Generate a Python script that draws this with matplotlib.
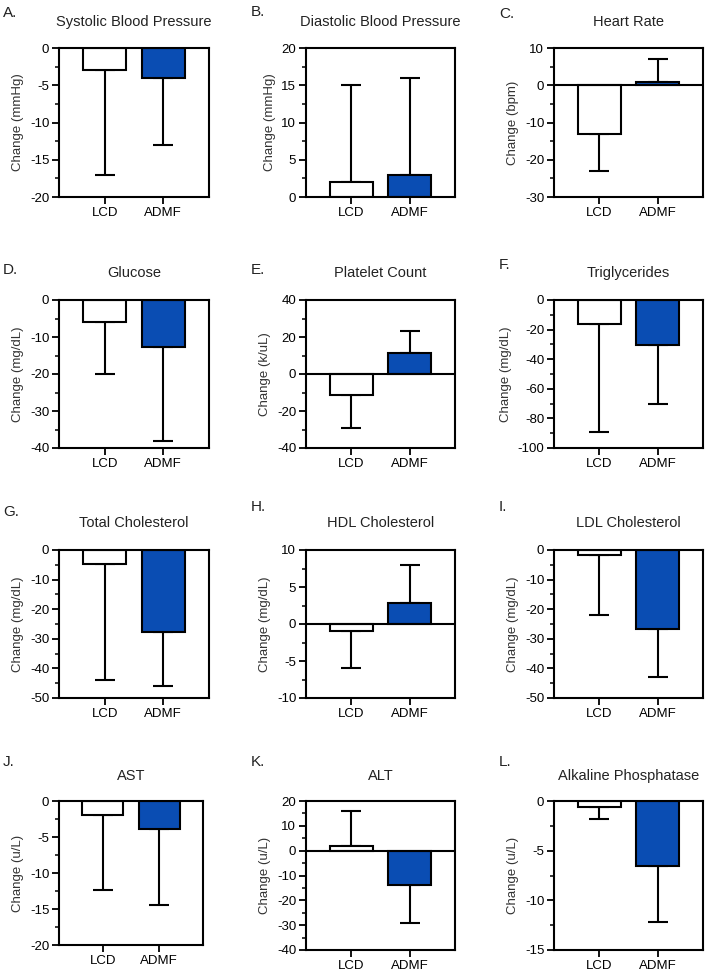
import matplotlib
matplotlib.use("Agg")
import matplotlib.pyplot as plt
from matplotlib.ticker import MultipleLocator

plt.rcParams['font.family'] = ['Liberation Sans', 'DejaVu Sans']
plt.rcParams['axes.unicode_minus'] = False

# ---------------- data ----------------
groups = ["LCD", "ADMF"]
letters = ["A.", "B.", "C.", "D.", "E.", "F.", "G.", "H.", "I.", "J.", "K.", "L."]
titles = ["Systolic Blood Pressure", "Diastolic Blood Pressure", "Heart Rate",
          "Glucose", "Platelet Count", "Triglycerides",
          "Total Cholesterol", "HDL Cholesterol", "LDL Cholesterol",
          "AST", "ALT", "Alkaline Phosphatase"]
ylabels = ["Change (mmHg)", "Change (mmHg)", "Change (bpm)",
           "Change (mg/dL)", "Change (k/uL)", "Change (mg/dL)",
           "Change (mg/dL)", "Change (mg/dL)", "Change (mg/dL)",
           "Change (u/L)", "Change (u/L)", "Change (u/L)"]
# mean change for [LCD, ADMF]
lcd_mean = [-3, 2, -13, -6, -11.5, -16.5, -4.8, -0.9, -1.8, -1.9, 1.8, -0.6]
admf_mean = [-4, 3, 0.8, -12.8, 11.5, -30.5, -27.8, 2.9, -26.8, -3.9, -13.7, -6.5]
# end point of the one-sided error bar
lcd_err_end = [-17, 15, -23, -20, -29, -89, -44, -6, -22, -12.4, 16, -1.85]
admf_err_end = [-13, 16, 7, -38, 23, -70, -46, 8, -43, -14.4, -29, -12.2]
ylims = [(-20, 0), (0, 20), (-30, 10), (-40, 0), (-40, 40), (-100, 0),
         (-50, 0), (-10, 10), (-50, 0), (-20, 0), (-40, 20), (-15, 0)]
major_step = [5, 5, 10, 10, 20, 20, 10, 5, 10, 5, 10, 5]

# ---------------- layout (pixels) ----------------
W, H = 709, 973
fig = plt.figure(figsize=(W / 100, H / 100), dpi=100)

col_x = [(59, 209), (306, 455), (554, 703)]
row_y = [(48, 197), (300, 448), (550, 698), (801, 950)]
title_y = [22, 273, 523, 776]
letter_y = [[13, 12, 14], [270, 270, 265], [512, 507, 507], [762, 762, 762]]
letter_x = [3, 251, 499]

blue = "#0a4db3"
lw = 1.5

for i in range(12):
    r, c = divmod(i, 3)
    x0, x1 = col_x[c]
    if i == 9:
        x1 = 203
    y0, y1 = row_y[r]
    if i == 9:
        y1 = 945
    ax = fig.add_axes([x0 / W, 1 - y1 / H, (x1 - x0) / W, (y1 - y0) / H])
    means = [lcd_mean[i], admf_mean[i]]
    ends = [lcd_err_end[i], admf_err_end[i]]
    xs = list(range(len(groups)))
    ax.bar(xs, means, width=0.73, color=["white", blue], edgecolor="black",
           linewidth=lw, zorder=2)
    lower = []
    upper = []
    for m, e in zip(means, ends):
        if e >= m:
            lower.append(0)
            upper.append(e - m)
        else:
            lower.append(m - e)
            upper.append(0)
    ax.errorbar(xs, means, yerr=[lower, upper], fmt="none", ecolor="black",
                elinewidth=lw, capsize=7.5, capthick=lw, zorder=1)
    lo, hi = ylims[i]
    if lo < 0 < hi:
        ax.axhline(0, color="black", linewidth=lw, zorder=3)
    ax.set_ylim(lo, hi)
    ax.set_xlim(-0.78, 1.78)
    ax.set_xticks(xs)
    ax.set_xticklabels(groups, fontsize=9.5)
    ax.yaxis.set_major_locator(MultipleLocator(major_step[i]))
    ax.yaxis.set_minor_locator(MultipleLocator(major_step[i] / 2))
    ax.tick_params(axis="both", which="major", length=5, width=1.3,
                   labelsize=9.5, pad=2)
    ax.tick_params(axis="y", which="minor", length=3, width=1.1)
    for s in ax.spines.values():
        s.set_linewidth(lw)
    ax.set_ylabel(ylabels[i], fontsize=9.5, color="#333333", labelpad=4)
    fig.text((x0 + x1) / 2 / W, 1 - title_y[r] / H, titles[i], ha="center",
             va="center", fontsize=10.5, color="#222222")
    fig.text(letter_x[c] / W, 1 - letter_y[r][c] / H, letters[i], ha="left",
             va="center", fontsize=11, color="#222222")

fig.savefig("out.png", dpi=100, facecolor="white")
